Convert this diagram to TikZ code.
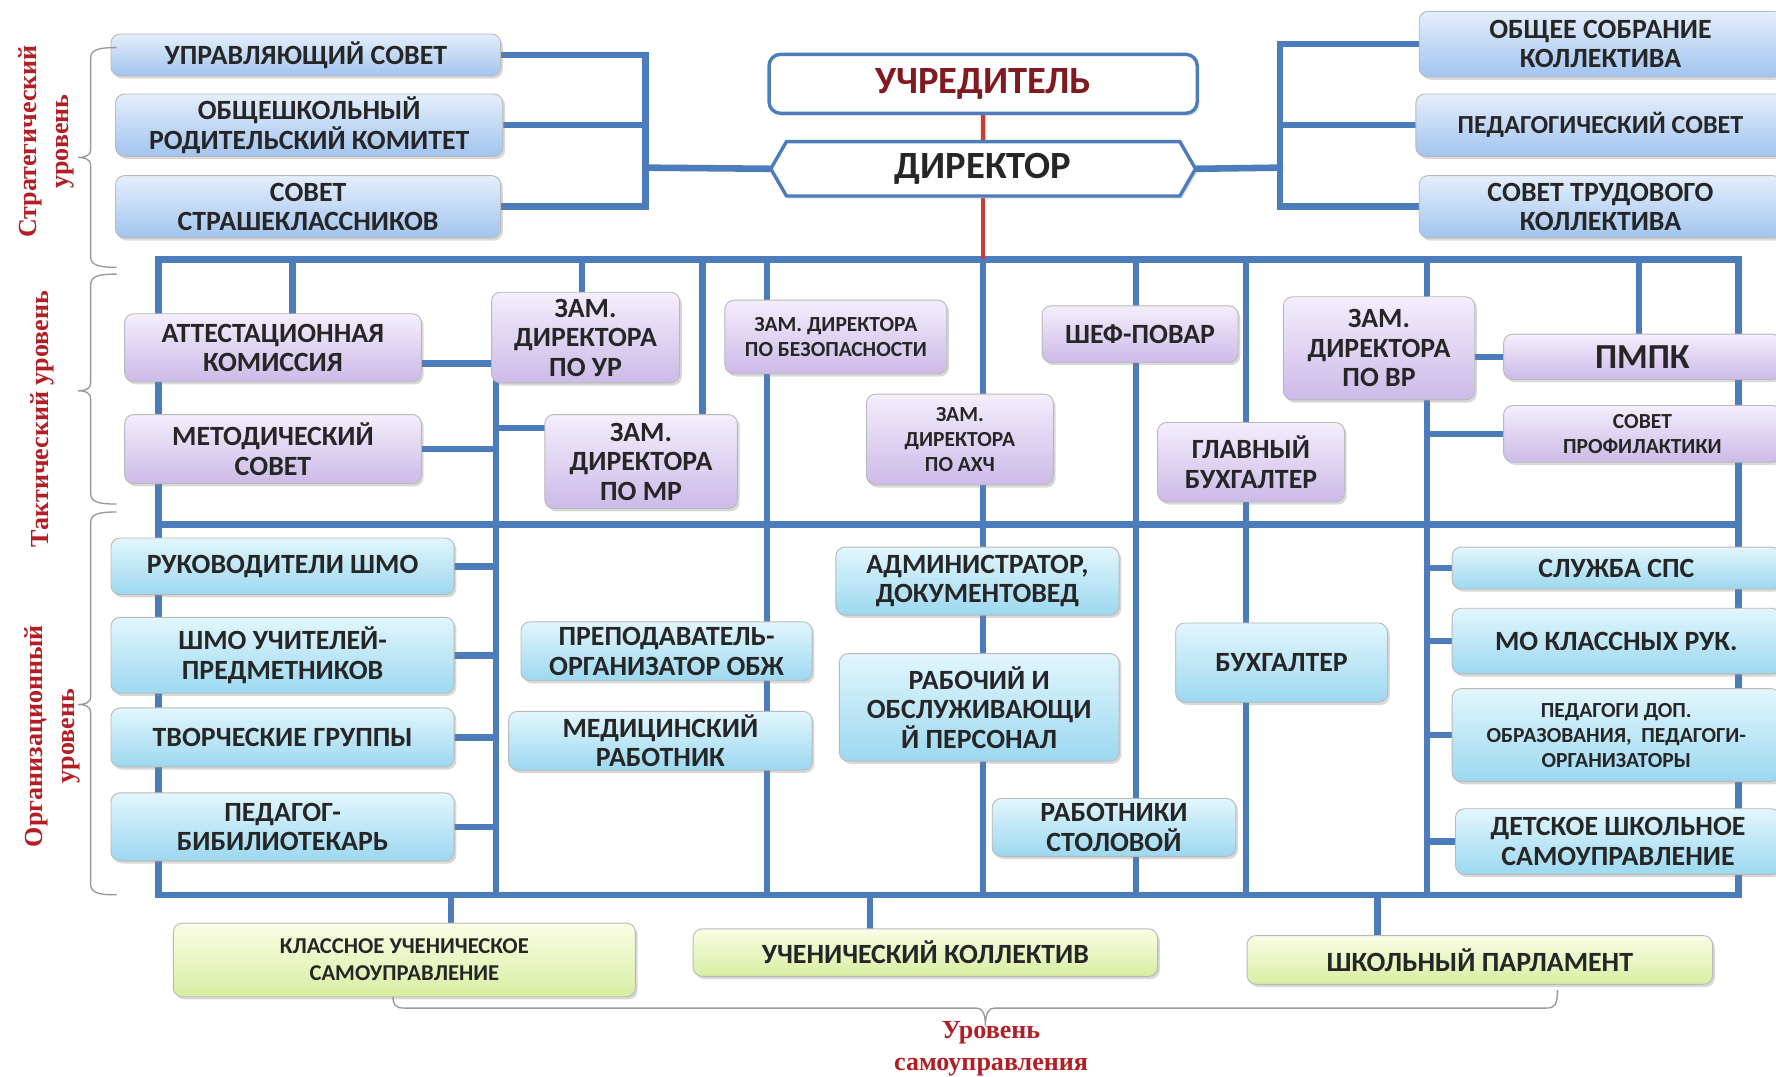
\documentclass[tikz,border=0pt]{standalone}
\usepackage{fontspec}
\setmainfont{Carlito}
\newfontfamily\lvlfont{Liberation Serif}
\usetikzlibrary{positioning,shapes.symbols,shadows,backgrounds}

\definecolor{busblue}{RGB}{76,124,188}
\definecolor{redline}{RGB}{196,62,52}
\definecolor{lvlred}{RGB}{178,30,36}
\definecolor{uchred}{RGB}{128,26,32}
\definecolor{stratT}{RGB}{228,238,252}
\definecolor{stratB}{RGB}{162,196,238}
\definecolor{tacT}{RGB}{244,238,252}
\definecolor{tacB}{RGB}{204,186,232}
\definecolor{orgT}{RGB}{226,246,253}
\definecolor{orgB}{RGB}{156,216,240}
\definecolor{studT}{RGB}{250,253,230}
\definecolor{studB}{RGB}{216,238,162}

% left level bracket: top, tip, bottom
\newcommand\lvlbrace[3]{\draw[brc] (103,#1) .. controls (86,#1) and (80,#1+2) .. (80,#1+10)
  -- (80,#2-7) .. controls (80,#2-1) and (74,#2) .. (69,#2)
  .. controls (74,#2) and (80,#2+1) .. (80,#2+7)
  -- (80,#3-10) .. controls (80,#3-2) and (86,#3) .. (103,#3);}

\begin{document}
\begin{tikzpicture}[x=0.5pt,y=-0.5pt,
dims/.style 2 args={minimum width=#1*0.5pt,minimum height=#2*0.5pt},
box/.style={draw=gray!55,rounded corners=4pt,align=center,inner sep=1pt,text=black!85,
  font=\bfseries\fontsize{12.3}{13}\selectfont,
  drop shadow={shadow xshift=1pt,shadow yshift=-1.2pt,opacity=.3}},
small/.style={font=\bfseries\fontsize{9.5}{11}\selectfont},
big/.style={font=\bfseries\fontsize{15.5}{17}\selectfont},
strat/.style={box,top color=stratT,bottom color=stratB},
tac/.style={box,top color=tacT,bottom color=tacB},
org/.style={box,top color=orgT,bottom color=orgB},
stud/.style={box,top color=studT,bottom color=studB},
head/.style={draw=busblue,line width=1.5pt,fill=white,align=center,
  font=\bfseries\fontsize{17}{19}\selectfont,
  drop shadow={shadow xshift=1pt,shadow yshift=-1.2pt,opacity=.25}},
bus/.style={draw=busblue,line width=2.9pt,line cap=rect},
redln/.style={draw=redline,line width=2pt},
brc/.style={draw=black!40,line width=.6pt},
lvl/.style={font=\lvlfont\bfseries\fontsize{11.5}{14}\selectfont,text=lvlred,align=center}]
\useasboundingbox (0,0) rectangle (1568,950);

% strategic level
\node[strat,dims={344}{37}] (upr) at (270,48.5) {УПРАВЛЯЮЩИЙ СОВЕТ};
\node[strat,dims={342}{55}] (rodkom) at (273,110.5) {ОБЩЕШКОЛЬНЫЙ\\РОДИТЕЛЬСКИЙ КОМИТЕТ};
\node[strat,dims={340}{55}] (starsh) at (272,182.5) {СОВЕТ\\СТРАШЕКЛАССНИКОВ};
\node[strat,dims={320}{58}] (sobr) at (1413,39) {ОБЩЕЕ СОБРАНИЕ\\КОЛЛЕКТИВА};
\node[strat,font=\bfseries\fontsize{11.5}{12}\selectfont,dims={326}{55}] (pedsov) at (1413,110.5) {ПЕДАГОГИЧЕСКИЙ СОВЕТ};
\node[strat,dims={320}{55}] (trud) at (1413,182.5) {СОВЕТ ТРУДОВОГО\\КОЛЛЕКТИВА};
\node[head,rounded corners=5pt,text=uchred,dims={378}{52}] (uchr) at (868,74) {УЧРЕДИТЕЛЬ};
\node[head,signal,signal to=west and east,signal pointer angle=120,text=black!85,dims={375}{48}] (dir) at (868,149) {ДИРЕКТОР};

% tactical level
\node[tac,dims={262}{60}] (attest) at (241,307) {АТТЕСТАЦИОННАЯ\\КОМИССИЯ};
\node[tac,dims={262}{61}] (metod) at (241,396.5) {МЕТОДИЧЕСКИЙ\\СОВЕТ};
\node[tac,dims={166}{80}] (zamur) at (517,298) {ЗАМ.\\ДИРЕКТОРА\\ПО УР};
\node[tac,dims={170}{83}] (zammr) at (566,407.5) {ЗАМ.\\ДИРЕКТОРА\\ПО МР};
\node[tac,small,dims={196}{65}] (zambez) at (738,297.5) {ЗАМ. ДИРЕКТОРА\\ПО БЕЗОПАСНОСТИ};
\node[tac,small,dims={165}{80}] (zamahch) at (847.5,388) {ЗАМ.\\ДИРЕКТОРА\\ПО АХЧ};
\node[tac,dims={173}{50}] (shef) at (1006.5,295) {ШЕФ-ПОВАР};
\node[tac,dims={165}{70}] (glbuh) at (1104.5,408) {ГЛАВНЫЙ\\БУХГАЛТЕР};
\node[tac,dims={169}{91}] (zamvr) at (1217.5,307.5) {ЗАМ.\\ДИРЕКТОРА\\ПО ВР};
\node[tac,big,dims={245}{40}] (pmpk) at (1450,315) {ПМПК};
\node[tac,small,dims={245}{50}] (profil) at (1450,383) {СОВЕТ\\ПРОФИЛАКТИКИ};

% organizational level
\node[org,dims={303}{50}] (rukshmo) at (249.5,500) {РУКОВОДИТЕЛИ ШМО};
\node[org,dims={303}{67}] (shmouch) at (249.5,578.5) {ШМО УЧИТЕЛЕЙ-\\ПРЕДМЕТНИКОВ};
\node[org,dims={303}{52}] (tvorch) at (249.5,651) {ТВОРЧЕСКИЕ ГРУППЫ};
\node[org,dims={303}{60}] (bibl) at (249.5,730) {ПЕДАГОГ-\\БИБИЛИОТЕКАРЬ};
\node[org,dims={257}{52}] (obzh) at (588.5,575) {ПРЕПОДАВАТЕЛЬ-\\ОРГАНИЗАТОР ОБЖ};
\node[org,dims={268}{52}] (med) at (583,654) {МЕДИЦИНСКИЙ\\РАБОТНИК};
\node[org,dims={250}{60}] (admin) at (863,513) {АДМИНИСТРАТОР,\\ДОКУМЕНТОВЕД};
\node[org,dims={247}{95}] (rabper) at (864.5,624.5) {РАБОЧИЙ И\\ОБСЛУЖИВАЮЩИ\\Й ПЕРСОНАЛ};
\node[org,dims={215}{51}] (stolov) at (983.5,730.5) {РАБОТНИКИ\\СТОЛОВОЙ};
\node[org,dims={187}{70}] (buh) at (1131.5,585) {БУХГАЛТЕР};
\node[org,dims={290}{37}] (sps) at (1427,501.5) {СЛУЖБА СПС};
\node[org,dims={290}{58}] (moklass) at (1427,566) {МО КЛАССНЫХ РУК.};
\node[org,small,dims={290}{82}] (peddop) at (1427,649) {ПЕДАГОГИ ДОП.\\ОБРАЗОВАНИЯ,\ \ ПЕДАГОГИ-\\ОРГАНИЗАТОРЫ};
\node[org,dims={287}{58}] (detsk) at (1428.5,743) {ДЕТСКОЕ ШКОЛЬНОЕ\\САМОУПРАВЛЕНИЕ};

% self-government level
\node[stud,font=\bfseries\fontsize{10}{12}\selectfont,dims={408}{65}] (klass) at (357,847.5) {КЛАССНОЕ УЧЕНИЧЕСКОЕ\\САМОУПРАВЛЕНИЕ};
\node[stud,dims={410}{42}] (uchkol) at (817,841) {УЧЕНИЧЕСКИЙ КОЛЛЕКТИВ};
\node[stud,dims={411}{43}] (parl) at (1306.5,847.5) {ШКОЛЬНЫЙ ПАРЛАМЕНТ};

% level labels
\node[lvl,rotate=90] (lstrat) at (41,125) {Стратегический\\уровень};
\node[lvl,rotate=90] (ltact) at (37,370) {Тактический уровень};
\node[lvl,rotate=90] (lorg) at (46,650) {Организационный\\уровень};
\node[lvl] (lself) at (875,926) {Уровень\\самоуправления};
\lvlbrace{42}{139}{236}
\lvlbrace{242}{345}{445}
\lvlbrace{452}{622}{790}
\draw[brc] (347,880) .. controls (347,887) and (349,890) .. (357,890) -- (862,890)
  .. controls (867,890) and (870,894) .. (870,906) .. controls (870,894) and (873,890) .. (878,890)
  -- (1365,890) .. controls (1373,890) and (1375,887) .. (1375,874);

\begin{pgfonlayer}{background}
\fill[white] (0,0) rectangle (1568,950);
\coordinate (sl) at (570,148);
\coordinate (sr) at (1130,148);
\coordinate (v2) at (438,790);
\coordinate (v7) at (1260,790);
\coordinate (gtop) at (868,229);
\draw[bus] (upr.east) -- (upr.east -| sl) -- (starsh.east -| sl) -- (starsh.east);
\draw[bus] (rodkom.east) -- (rodkom.east -| sl);
\draw[bus] (sl) -- (dir.west);
\draw[bus] (sobr.west) -- (sobr.west -| sr) -- (trud.west -| sr) -- (trud.west);
\draw[bus] (pedsov.west) -- (pedsov.west -| sr);
\draw[bus] (sr) -- (dir.east);
% grid
\foreach \y in {229,463,790}
  \draw[bus] (140,\y) -- (1535,\y);
\foreach \x in {140,677,868,1003,1100,1260,1535}
  \draw[bus] (\x,229) -- (\x,790);
\foreach \x/\n in {258/attest,514/zamur,620/zammr,1447/pmpk}{
  \path (\x,229) coordinate (t);
  \draw[bus] (t) -- (t |- \n.north);
}
\draw[bus] (zamur.south -| v2) -- (v2);
\coordinate (atin) at ([yshift=-7pt]attest.east);
\coordinate (mrin) at ([yshift=14.75pt]zammr.west);
\draw[bus] (atin) -- (atin -| v2);
\draw[bus] (metod.east) -- (metod.east -| v2);
\draw[bus] (mrin -| v2) -- (mrin);
\foreach \n in {rukshmo,shmouch,tvorch,bibl}
  \draw[bus] (\n.east) -- (\n.east -| v2);
\draw[bus] (zamvr.east |- pmpk.west) -- (pmpk.west);
\foreach \n in {profil,sps,moklass,peddop,detsk}
  \draw[bus] (\n.west -| v7) -- (\n.west);
\foreach \x/\n in {398/klass,768/uchkol,1216/parl}{
  \path (\x,790) coordinate (d);
  \draw[bus] (d) -- (d |- \n.north);
}
\draw[redln] (uchr) -- (dir);
\draw[redln] (dir.south) -- (gtop);
\end{pgfonlayer}
\end{tikzpicture}
\end{document}
